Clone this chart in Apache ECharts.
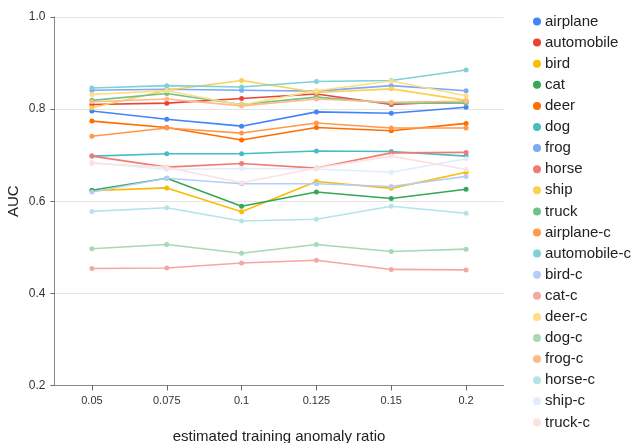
<!DOCTYPE html>
<html>
<head>
<meta charset="utf-8">
<script src="https://cdn.jsdelivr.net/npm/echarts@6/dist/echarts.min.js"></script>
<style>
  html, body { margin: 0; padding: 0; background: #fff; }
  #chart { width: 633px; height: 443px; }
</style>
</head>
<body>
<div id="chart"></div>
<script>
// Estimated training anomaly ratio (x categories)
const ratios = ['0.05', '0.075', '0.1', '0.125', '0.15', '0.2'];
const yTicks = [0.2, 0.4, 0.6, 0.8, 1.0];

// AUC per class
const airplane    = [0.796, 0.778, 0.763, 0.794, 0.791, 0.804];
const automobile  = [0.810, 0.813, 0.823, 0.833, 0.810, 0.817];
const bird        = [0.623, 0.629, 0.577, 0.643, 0.628, 0.663];
const cat         = [0.624, 0.650, 0.589, 0.620, 0.606, 0.626];
const deer        = [0.774, 0.760, 0.733, 0.760, 0.753, 0.769];
const dog         = [0.698, 0.703, 0.703, 0.709, 0.708, 0.698];
const frog        = [0.841, 0.843, 0.841, 0.839, 0.851, 0.840];
const horse       = [0.698, 0.674, 0.682, 0.672, 0.705, 0.706];
const ship        = [0.803, 0.841, 0.862, 0.836, 0.844, 0.819];
const truck       = [0.819, 0.834, 0.810, 0.826, 0.813, 0.813];
const airplaneC   = [0.741, 0.759, 0.748, 0.770, 0.759, 0.759];
const automobileC = [0.846, 0.851, 0.848, 0.860, 0.862, 0.885];
const birdC       = [0.620, 0.650, 0.638, 0.638, 0.632, 0.654];
const catC        = [0.454, 0.455, 0.466, 0.472, 0.452, 0.451];
const deerC       = [0.832, 0.840, 0.809, 0.840, 0.861, 0.829];
const dogC        = [0.497, 0.506, 0.487, 0.506, 0.491, 0.496];
const frogC       = [0.816, 0.822, 0.807, 0.822, 0.815, 0.817];
const horseC      = [0.578, 0.586, 0.557, 0.561, 0.589, 0.574];
const shipC       = [0.684, 0.669, 0.671, 0.670, 0.663, 0.692];
const truckC      = [0.682, 0.674, 0.640, 0.672, 0.698, 0.669];

const names = ['airplane', 'automobile', 'bird', 'cat', 'deer', 'dog', 'frog', 'horse', 'ship', 'truck',
  'airplane-c', 'automobile-c', 'bird-c', 'cat-c', 'deer-c', 'dog-c', 'frog-c', 'horse-c', 'ship-c', 'truck-c'];
const values = [airplane, automobile, bird, cat, deer, dog, frog, horse, ship, truck,
  airplaneC, automobileC, birdC, catC, deerC, dogC, frogC, horseC, shipC, truckC];
const colors = ['#4285F4', '#EA4335', '#FBBC04', '#34A853', '#FF6D01', '#46BDC6', '#7BAAF7', '#F07B72', '#FCD04F', '#71C287',
  '#FF994D', '#7ED1D7', '#B3CEFB', '#F7A7A1', '#FDDE83', '#A8D9B5', '#FFB98A', '#B5E4E8', '#E3ECFD', '#FCE1DF'];

const FONT = '"Liberation Sans", Arial, sans-serif';

const chart = echarts.init(document.getElementById('chart'), null, { renderer: 'canvas' });
chart.setOption({
  animation: false,
  color: colors,
  textStyle: { fontFamily: FONT },
  grid: { left: 54.5, right: 129.5, top: 17, bottom: 57.5, containLabel: false, outerBoundsMode: 'none' },
  legend: {
    orient: 'vertical',
    left: 528,
    top: 9,
    itemGap: 6.1,
    itemWidth: 8,
    itemHeight: 8,
    icon: 'circle',
    textStyle: { fontFamily: FONT, fontSize: 15, lineHeight: 15, color: '#222', padding: [0, 0, 0, -1] },
    data: names
  },
  xAxis: {
    type: 'category',
    data: ratios,
    boundaryGap: true,
    name: 'estimated training anomaly ratio',
    nameLocation: 'middle',
    nameGap: 44,
    nameMoveOverlap: false,
    nameTextStyle: { fontFamily: FONT, fontSize: 15, color: '#222' },
    axisLine: { show: true, lineStyle: { color: '#888', width: 1 } },
    axisTick: { show: true, alignWithLabel: true, length: 5, lineStyle: { color: '#666' } },
    axisLabel: { fontFamily: FONT, fontSize: 11, color: '#333', margin: 10 },
    splitLine: { show: false }
  },
  yAxis: {
    type: 'value',
    min: yTicks[0],
    max: yTicks[yTicks.length - 1],
    interval: 0.2,
    name: 'AUC',
    nameLocation: 'middle',
    nameGap: 33,
    nameMoveOverlap: false,
    nameRotate: 90,
    nameTextStyle: { fontFamily: FONT, fontSize: 15, color: '#222' },
    axisLine: { show: true, lineStyle: { color: '#888', width: 1 } },
    axisTick: { show: true, length: 4, lineStyle: { color: '#666' } },
    axisLabel: { fontFamily: FONT, fontSize: 12, color: '#333', margin: 9, formatter: v => v.toFixed(1) },
    splitLine: { show: true, lineStyle: { color: '#e4e4e4', width: 1 } }
  },
  series: names.map((n, i) => ({
    name: n,
    type: 'line',
    data: values[i],
    symbol: 'circle',
    symbolSize: 5,
    lineStyle: { width: 1.6, color: colors[i] },
    itemStyle: { color: colors[i] },
    emphasis: { disabled: true }
  }))
});
</script>
</body>
</html>
